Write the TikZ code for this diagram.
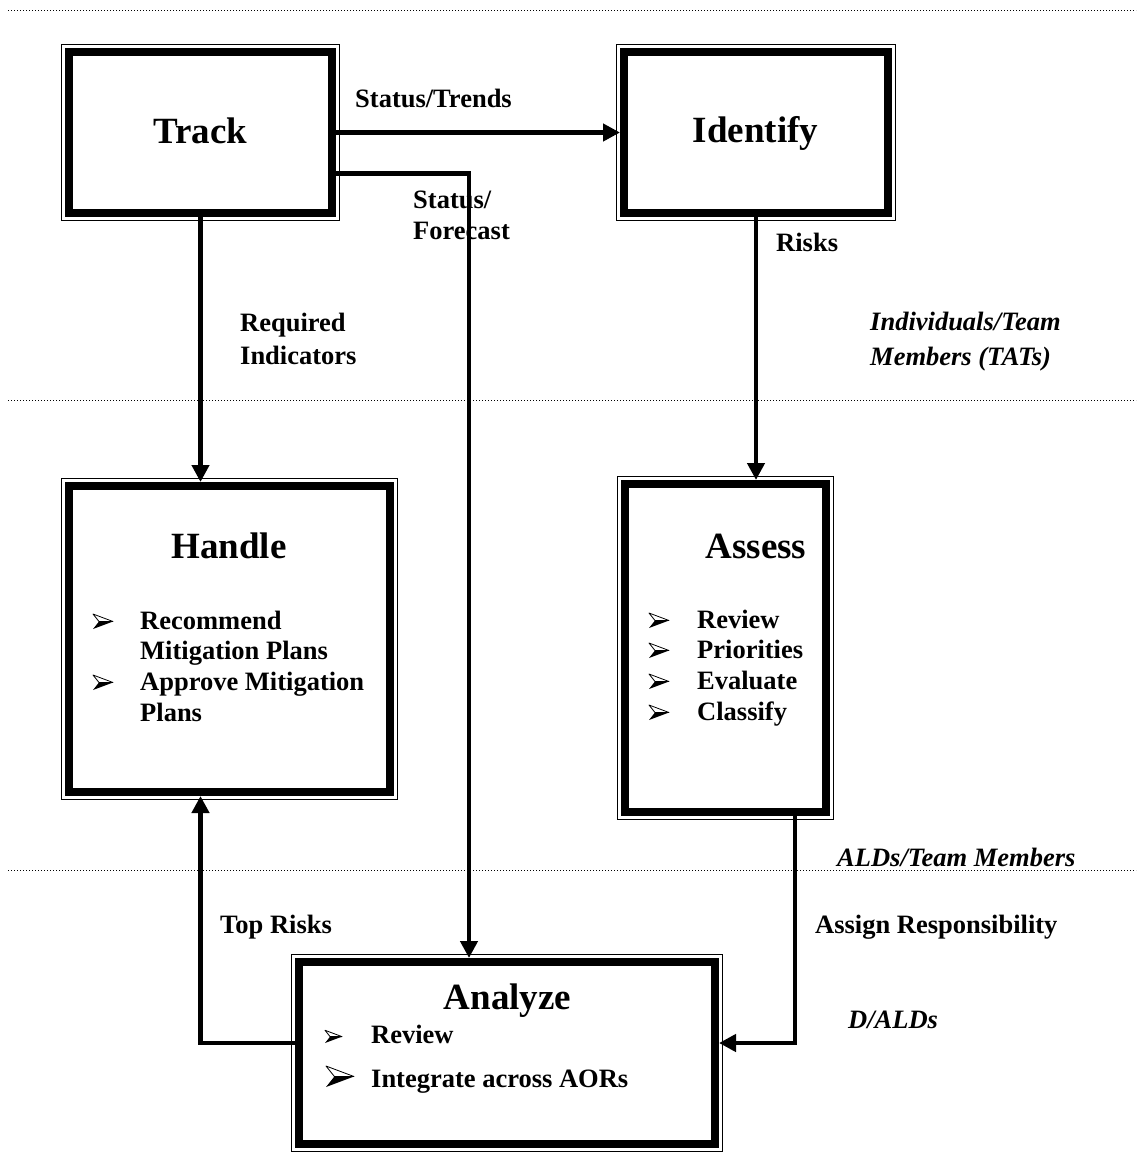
\documentclass[tikz,border=0pt]{standalone}
\usepackage{fontspec}
\setmainfont{Liberation Serif}
\usetikzlibrary{arrows.meta}
\begin{document}
\begin{tikzpicture}[x=1pt,y=-1pt,
  every node/.style={inner sep=0pt},
  lbl/.style={font=\fontsize{26.5}{31}\selectfont\bfseries, anchor=base west},
  role/.style={font=\fontsize{26.5}{31}\selectfont\bfseries\itshape, anchor=base west},
  title/.style={font=\fontsize{37}{40}\selectfont\bfseries, anchor=base},
  box/.style={draw, line width=8pt, outer sep=4pt},
  frame/.style={line width=1.2pt},
  arr/.style={line width=4.5pt, -{Triangle[length=17pt,width=17pt]}},
  sep/.style={line width=1pt, dash pattern=on 1pt off 2pt},
  bul/.pic={
    \fill[black] (0,0) -- (20,-7.5) -- (6,-7.5) -- cycle;
    \filldraw[fill=white, draw=black, line width=0.8pt, line join=round]
      (0,-15) -- (20,-7.5) -- (6,-7.5) -- cycle;
  },
]
\useasboundingbox (0,0) rectangle (1136,1165);

% swim-lane separators
\draw[sep] (8,10) -- (1136,10);
\draw[sep] (8,400) -- (1136,400);
\draw[sep] (8,870) -- (1136,870);

% process boxes (thick inner border)
\node[box, minimum width=263pt, minimum height=161pt] (track)    at (200.5,132.5) {};
\node[box, minimum width=264pt, minimum height=161pt] (identify) at (756,132.5) {};
\node[box, minimum width=321pt, minimum height=306pt] (handle)   at (229.5,639) {};
\node[box, minimum width=201pt, minimum height=328pt] (assess)   at (725.5,648) {};
\node[box, minimum width=416pt, minimum height=182pt] (analyze)  at (507,1053) {};

% thin outer border round each box
\foreach \n in {track,identify,handle,assess,analyze}
  \draw[frame] ([shift={(-3.6pt,3.6pt)}]\n.north west) rectangle ([shift={(3.6pt,-3.6pt)}]\n.south east);

% box titles
\node[title] (ttrack)    at (200.5,143) {Track};
\node[title] (tidentify) at (755.5,142) {Identify};
\node[title] (thandle)   at (229,558)   {Handle};
\node[title] (tassess)   at (756,558)   {Assess};
\node[title] (tanalyze)  at (507.5,1009) {Analyze};

% Handle items
\pic at (93,629) {bul};
\node[lbl] (h1) at (140,629) {Recommend};
\node[lbl] (h2) at (140,659) {Mitigation Plans};
\pic at (93,690) {bul};
\node[lbl] (h3) at (140,690) {Approve Mitigation};
\node[lbl] (h4) at (140,721) {Plans};

% Assess items
\pic at (649,628) {bul};
\node[lbl] (a1) at (697,628) {Review};
\pic at (649,658) {bul};
\node[lbl] (a2) at (697,658) {Priorities};
\pic at (649,689) {bul};
\node[lbl] (a3) at (697,689) {Evaluate};
\pic at (649,720) {bul};
\node[lbl] (a4) at (697,720) {Classify};

% Analyze items
\pic[scale=0.85] at (325,1043) {bul};
\node[lbl] (n1) at (371,1043) {Review};
\pic[scale=1.4] at (326,1087) {bul};
\node[lbl] (n2) at (371,1087) {Integrate across AORs};

% connector labels
\node[lbl] (ltrends) at (355,107) {Status/Trends};
\node[lbl] (lstat1)  at (413,208) {Status/};
\node[lbl] (lstat2)  at (413,239) {Forecast};
\node[lbl] (lreq1)   at (240,331) {Required};
\node[lbl] (lreq2)   at (240,364) {Indicators};
\node[lbl] (lrisks)  at (776,251) {Risks};
\node[lbl] (ltop)    at (220,933) {Top Risks};
\node[lbl] (lassign) at (815,933) {Assign Responsibility};

% lane roles
\node[role] (rind1) at (870,330) {Individuals/Team};
\node[role] (rind2) at (870,365) {Members (TATs)};
\node[role] (rald)  at (837,866) {ALDs/Team Members};
\node[role] (rdald) at (848,1028) {D/ALDs};

% connectors
\draw[arr] (track.east) -- (identify.west);
\draw[arr] ([yshift=-41pt]track.east) -| ([xshift=-38pt]analyze.north);
\draw[arr] (track.south) -- (track.south |- handle.north);
\draw[arr] (identify.south) -- (identify.south |- assess.north);
\draw[arr] ([yshift=10pt]analyze.west) -| (track.south |- handle.south);
\draw[arr] ([xshift=69.5pt]assess.south) |- ([yshift=10pt]analyze.east);
\end{tikzpicture}
\end{document}
